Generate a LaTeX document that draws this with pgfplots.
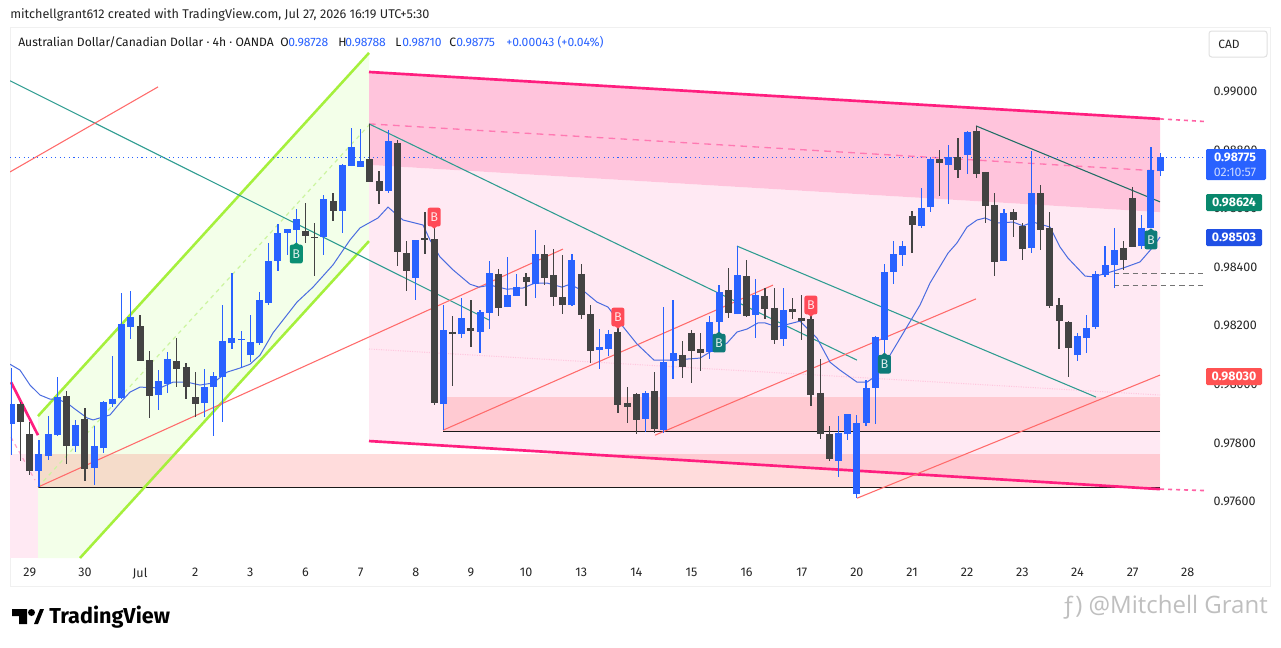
\documentclass[border=0pt]{standalone}
\usepackage{pgfplots}
\pgfplotsset{compat=1.18}
\usepackage{pgfplotstable}
\usepackage{fontspec}
\setmainfont{Fira Sans}
\newfontfamily\wmfont{Open Sans}
\definecolor{tvblue}{HTML}{2962FF}
\definecolor{tagblue}{HTML}{2050E5}
\definecolor{tvdark}{HTML}{434343}
\definecolor{pinkline}{HTML}{FF1F7F}
\definecolor{pinkhi}{HTML}{FFC4DC}
\definecolor{pinklo}{HTML}{FFE9F3}
\definecolor{gline}{HTML}{A5F03C}
\definecolor{gfill}{HTML}{F3FFE9}
\definecolor{gdash}{HTML}{CCF5A0}
\definecolor{tealline}{HTML}{2E9C90}
\definecolor{redline}{HTML}{FF6B6B}
\definecolor{rectred}{HTML}{FF5252}
\definecolor{malin}{HTML}{4A6CE0}
\definecolor{flagred}{HTML}{FF4A57}
\definecolor{flaggreen}{HTML}{0A8F73}
\definecolor{flagteal}{HTML}{0F7A78}
\pgfplotstableread{
i o h l c
0 .97865 .98056 .97759 .97933
3 .97705 .97810 .97650 .97762
4 .97756 .97892 .97742 .97830
5 .97827 .98025 .97824 .97957
7 .97790 .97879 .97769 .97862
9 .97715 .97858 .97657 .97790
10 .97783 .97944 .97766 .97940
11 .97933 .98097 .97923 .97950
12 .97954 .98312 .97950 .98206
13 .98196 .98319 .98155 .98230
16 .97964 .98049 .97913 .98012
17 .98001 .98110 .97971 .98087
21 .97937 .98053 .97889 .97991
22 .97991 .98042 .97824 .98029
23 .98025 .98271 .97872 .98148
24 .98141 .98380 .98121 .98158
25 .98152 .98182 .98056 .98155
26 .98100 .98237 .98076 .98145
27 .98141 .98315 .98134 .98288
28 .98278 .98483 .98271 .98421
29 .98421 .98547 .98387 .98517
30 .98517 .98530 .98442 .98530
31 .98527 .98599 .98479 .98564
34 .98503 .98646 .98442 .98633
36 .98592 .98752 .98517 .98749
37 .98745 .98875 .98745 .98810
38 .98742 .98872 .98742 .98762
41 .98660 .98868 .98653 .98831
44 .98363 .98493 .98288 .98493
47 .97933 .98271 .97844 .98186
49 .98172 .98295 .98158 .98227
51 .98179 .98254 .98107 .98247
52 .98244 .98421 .98189 .98380
54 .98264 .98435 .98264 .98305
55 .98302 .98377 .98302 .98332
57 .98342 .98527 .98295 .98445
61 .98271 .98445 .98268 .98425
64 .98117 .98189 .98053 .98128
65 .98121 .98186 .98097 .98172
69 .97882 .97978 .97838 .97971
71 .97844 .98264 .97834 .98076
72 .98080 .98288 .98018 .98107
76 .98110 .98234 .98087 .98213
77 .98213 .98339 .98176 .98315
79 .98240 .98472 .98240 .98373
81 .98237 .98360 .98158 .98305
84 .98155 .98329 .98131 .98254
90 .97739 .97892 .97684 .97834
91 .97830 .97899 .97810 .97899
92 .97626 .97896 .97612 .97868
93 .97868 .98015 .97858 .97988
94 .97988 .98165 .97865 .98162
95 .98152 .98411 .98100 .98384
96 .98384 .98489 .98342 .98445
97 .98442 .98489 .98404 .98472
99 .98541 .98670 .98534 .98602
100 .98605 .98773 .98588 .98769
102 .98749 .98817 .98616 .98776
104 .98783 .98865 .98718 .98861
108 .98421 .98599 .98421 .98585
111 .98466 .98797 .98448 .98653
116 .98100 .98176 .98080 .98165
117 .98158 .98237 .98107 .98193
118 .98196 .98387 .98189 .98377
119 .98373 .98472 .98367 .98408
120 .98408 .98534 .98329 .98459
123 .98472 .98578 .98462 .98534
124 .98534 .98810 .98534 .98732
125 .98728 .98788 .98710 .98775
}\upcandles
\pgfplotstableread{
i o h l c
1 .97933 .97940 .97739 .97872
2 .97830 .97872 .97691 .97705
6 .97961 .97978 .97728 .97790
8 .97882 .97920 .97670 .97711
14 .98199 .98237 .98080 .98080
15 .98083 .98114 .97885 .97961
18 .98080 .98158 .97991 .98053
19 .98059 .98073 .97950 .97991
20 .97957 .98042 .97889 .97933
32 .98524 .98619 .98483 .98507
33 .98503 .98551 .98370 .98500
35 .98626 .98653 .98558 .98592
39 .98769 .98889 .98691 .98691
40 .98694 .98728 .98616 .98660
42 .98824 .98834 .98404 .98452
43 .98448 .98489 .98319 .98387
45 .98500 .98588 .98445 .98493
46 .98496 .98534 .97930 .97937
48 .98179 .98234 .97995 .98172
50 .98193 .98288 .98128 .98182
53 .98377 .98394 .98234 .98261
56 .98367 .98380 .98268 .98350
58 .98445 .98476 .98339 .98363
59 .98373 .98462 .98268 .98298
60 .98298 .98442 .98240 .98271
62 .98377 .98411 .98223 .98237
63 .98240 .98271 .98073 .98114
66 .98179 .98196 .97902 .97930
67 .97937 .97991 .97868 .97923
68 .97967 .97971 .97830 .97879
70 .97978 .98042 .97834 .97848
73 .98100 .98148 .98022 .98059
74 .98176 .98186 .98005 .98114
75 .98121 .98176 .98046 .98107
78 .98322 .98397 .98227 .98244
80 .98370 .98425 .98230 .98234
82 .98302 .98329 .98223 .98257
83 .98261 .98329 .98138 .98152
85 .98257 .98295 .98223 .98247
86 .98227 .98305 .98152 .98216
87 .98223 .98237 .97926 .97964
88 .97971 .98087 .97814 .97830
89 .97830 .97858 .97739 .97745
98 .98575 .98592 .98448 .98544
101 .98769 .98800 .98643 .98756
103 .98776 .98841 .98704 .98732
105 .98865 .98882 .98704 .98718
106 .98725 .98725 .98551 .98609
107 .98612 .98653 .98370 .98418
109 .98588 .98599 .98503 .98561
110 .98541 .98551 .98425 .98462
112 .98653 .98681 .98459 .98527
113 .98534 .98588 .98261 .98268
114 .98271 .98295 .98121 .98216
115 .98213 .98216 .98025 .98124
121 .98466 .98489 .98391 .98425
122 .98636 .98674 .98469 .98469
}\downcandles
\pgfplotstableread{
x p
10 .98069
20 .98049
30 .97998
40 .97964
50 .97950
57 .97950
67 .97937
75 .97916
87 .97886
93 .97879
110 .97896
120 .97937
130 .97974
140 .97991
160 .97988
173 .98008
187 .98008
200 .97998
213 .98005
227 .98042
240 .98056
250 .98069
260 .98100
273 .98176
297 .98281
313 .98332
333 .98408
350 .98493
360 .98534
378 .98568
388 .98605
403 .98561
423 .98544
430 .98493
440 .98435
453 .98391
470 .98342
479 .98332
490 .98339
507 .98325
523 .98329
535 .98346
547 .98346
562 .98332
570 .98342
585 .98315
597 .98281
608 .98264
620 .98210
637 .98138
654 .98083
673 .98083
700 .98090
713 .98117
727 .98141
737 .98179
747 .98189
758 .98210
765 .98210
777 .98196
800 .98216
817 .98158
830 .98076
840 .98049
857 .98008
867 .98008
877 .98032
890 .98100
920 .98271
930 .98346
948 .98448
957 .98483
967 .98537
977 .98561
985 .98568
997 .98551
1013 .98554
1023 .98541
1033 .98554
1050 .98537
1060 .98469
1068 .98431
1085 .98370
1093 .98367
1107 .98380
1123 .98397
1140 .98418
1153 .98469
1160 .98503
}\matable
\pgfplotsset{
  chartbox/.style={scale only axis,width=896.25pt,height=397.5pt,
    at={(7.5pt,-418.5pt)},anchor=south west,
    ymin=.97408,ymax=.99216,clip=true,no markers},
  trend/.style={line width=0.8pt,tealline},
  redtrend/.style={line width=0.8pt,redline},
}
\newcommand{\flagdown}[4]{% x, price, colour: tip below
  \fill[#3] (axis cs:#1,#2) ++(-2.6pt,-6.5pt) -- ++(2.6pt,-2.2pt) -- ++(2.6pt,2.2pt) -- cycle;
  \node[fill=#3,rounded corners=1.5pt,minimum width=9.7pt,minimum height=14pt,inner sep=0pt,
        text=white!85!#3,font=\fontsize{9.5}{9.5}\selectfont] at (axis cs:#1,#2) {#4};}
\newcommand{\flagup}[4]{%
  \fill[#3] (axis cs:#1,#2) ++(-2.6pt,6.5pt) -- ++(2.6pt,2.2pt) -- ++(2.6pt,-2.2pt) -- cycle;
  \node[fill=#3,rounded corners=1.5pt,minimum width=9.7pt,minimum height=14pt,inner sep=0pt,
        text=white!85!#3,font=\fontsize{9.5}{9.5}\selectfont] at (axis cs:#1,#2) {#4};}
\begin{document}
\begin{tikzpicture}
\begin{scope}[x=0.75pt,y=-0.75pt]
\useasboundingbox (0,0) rectangle (1281,647);
\fill[white] (0,0) rectangle (1281,647);
\draw[line width=1pt,color=black!6] (10.5,27.5) rectangle (1270.5,586.5);
\end{scope}
% drawing tools and the moving average: x in chart pixels, y in price
\begin{axis}[chartbox,hide axis,xmin=10,xmax=1205]
\addplot[fill=pinklo,draw=none] coordinates {(10,.97762) (38,.97762) (38,.97408) (10,.97408)} -- cycle;
\addplot[fill=gfill,draw=none] coordinates {(38,.97892) (369,.99131) (369,.98489) (80,.97408) (38,.97408)} -- cycle;
\addplot[fill=pinklo,draw=none] coordinates {(369,.98749) (1160,.98588) (1160,.97643) (369,.97807)} -- cycle;
\addplot[fill=pinkhi,draw=none] coordinates {(369,.99066) (1160,.98906) (1160,.98588) (369,.98749)} -- cycle;
\addplot[fill=rectred,fill opacity=.2,draw=none] coordinates {(443,.97957) (1160,.97957) (1160,.97841) (443,.97841)} -- cycle;
\addplot[fill=rectred,fill opacity=.2,draw=none] coordinates {(38,.97762) (1160,.97762) (1160,.97646) (38,.97646)} -- cycle;
\addplot[black!90,line width=0.7pt] coordinates {(443,.97841) (1160,.97841)};
\addplot[black!90,line width=0.7pt] coordinates {(38,.97648) (1160,.97648)};
\addplot[pinkline!25,line width=0.8pt,densely dotted] coordinates {(369,.98121) (1160,.97964)};
\addplot[gdash,line width=0.9pt,dashed] coordinates {(38,.97650) (369,.98885)};
\addplot[gline,line width=1.9pt] coordinates {(38,.97892) (369,.99131)};
\addplot[gline,line width=1.9pt] coordinates {(80,.97408) (369,.98489)};
\addplot[pinkline,line width=2pt] coordinates {(369,.99066) (1160,.98906)};
\addplot[pinkline,line width=2pt] coordinates {(369,.97807) (1160,.97643)};
\addplot[pinkline!70,line width=1.2pt,dashed] coordinates {(1160,.98906) (1205,.98897)};
\addplot[pinkline!70,line width=1.2pt,dashed] coordinates {(1160,.97643) (1205,.97638)};
\addplot[pinkline!60,line width=1pt,dash pattern=on 5pt off 4pt] coordinates {(369,.98889) (1160,.98728)};
\addplot[pinkline,line width=2pt] coordinates {(11,.98008) (38,.97827)};
\addplot[pinkline!40,line width=0.9pt,dashed] coordinates {(11,.97820) (35,.97674)};
\addplot[trend] coordinates {(10,.99036) (489,.98220)};
\addplot[trend] coordinates {(369,.98889) (857,.98083)};
\addplot[trend] coordinates {(737,.98472) (1096,.97957)};
\addplot[trend,color=tealline!70!black] coordinates {(976,.98882) (1160,.98623)};
\addplot[redtrend] coordinates {(10,.98725) (158,.99015)};
\addplot[redtrend] coordinates {(38,.97650) (563,.98462)};
\addplot[redtrend] coordinates {(443,.97844) (773,.98339)};
\addplot[redtrend] coordinates {(655,.97827) (976,.98292)};
\addplot[redtrend] coordinates {(857,.97612) (1160,.98032)};
\addplot[black!55,line width=0.75pt,dash pattern=on 4pt off 3pt] coordinates {(1114,.98379) (1205,.98379)};
\addplot[black!55,line width=0.75pt,dash pattern=on 4pt off 3pt] coordinates {(1114,.98339) (1205,.98339)};
\addplot[tvblue,line width=0.75pt,dash pattern=on 0.8pt off 2.6pt] coordinates {(10,.98775) (1205,.98775)};
\addplot[malin,line width=0.75pt] table[x=x,y=p] {\matable};
\end{axis}
% candles: x is the bar number, y the price
\begin{axis}[chartbox,xmin=-0.152,xmax=129.88,
  axis line style={draw=none},major tick length=0pt,
  xtick={2,8,...,128},
  xticklabels={29,30,Jul,2,3,6,7,8,9,10,13,14,15,16,17,20,21,22,23,24,27,28},
  ytick={.976,.978,.98,.982,.984,.986,.988,.99},
  yticklabel pos=right,
  scaled y ticks=false,
  y tick label style={/pgf/number format/fixed,/pgf/number format/fixed zerofill,/pgf/number format/precision=5,/pgf/number format/assume math mode=true,xshift=3pt},
  x tick label style={/pgf/number format/assume math mode=true,yshift=-4pt},
  tick label style={font=\fontsize{9.4}{9.4}\selectfont,text=black!85},
  error bars/error mark=none,
]
\addplot[draw=none,error bars/.cd,y dir=both,y explicit,error bar style={tvblue,line width=0.9pt}]
  table[x=i,y=o,y error plus expr=\thisrow{h}-\thisrow{o},y error minus expr=\thisrow{o}-\thisrow{l}] {\upcandles};
\addplot[draw=none,error bars/.cd,y dir=both,y explicit,error bar style={tvdark,line width=0.9pt}]
  table[x=i,y=o,y error plus expr=\thisrow{h}-\thisrow{o},y error minus expr=\thisrow{o}-\thisrow{l}] {\downcandles};
\addplot[draw=none,error bars/.cd,y dir=plus,y explicit,error bar style={tvblue,line width=5.25pt,line cap=butt}]
  table[x=i,y=o,y error plus expr=\thisrow{c}-\thisrow{o}] {\upcandles};
\addplot[draw=none,error bars/.cd,y dir=minus,y explicit,error bar style={tvdark,line width=5.25pt,line cap=butt}]
  table[x=i,y=o,y error minus expr=\thisrow{o}-\thisrow{c}] {\downcandles};
\flagdown{46}{.98571}{flagred}{B}
\flagdown{66}{.98230}{flagred}{B}
\flagdown{87}{.98271}{flagred}{B}
\flagup{31}{.98445}{flaggreen}{B}
\flagup{77}{.98141}{flagteal}{B}
\flagup{95}{.98069}{flagteal}{B}
\flagup{124}{.98493}{flagteal}{B}
\end{axis}
\begin{scope}[x=0.75pt,y=-0.75pt]
\node[anchor=base west,inner sep=0pt,font=\fontsize{9.5}{9.5}\selectfont,text=black!85] at (10,18) {mitchellgrant612 created with TradingView.com, Jul 27, 2026 16:19 UTC+5:30};
\begin{scope}[every node/.style={anchor=base west,inner sep=0pt,font=\fontsize{9.1}{9.5}\selectfont}]
\node[text=black!90] at (18,46) {Australian Dollar/Canadian Dollar · 4h · OANDA};
\node[text=black!90] at (280,46) {O}; \node[text=tvblue] at (288,46) {0.98728};
\node[text=black!90] at (338,46) {H}; \node[text=tvblue] at (345,46) {0.98788};
\node[text=black!90] at (395,46) {L}; \node[text=tvblue] at (402,46) {0.98710};
\node[text=black!90] at (449,46) {C}; \node[text=tvblue] at (456,46) {0.98775};
\node[text=tvblue] at (506,46) {+0.00043 (+0.04\%)};
\end{scope}
\draw[black!12,line width=0.75pt,rounded corners=2pt] (1209,31) rectangle (1267,57);
\node[font=\fontsize{9}{9}\selectfont,text=black!85] at (1229,44) {CAD};
% price tags
\fill[tvblue,rounded corners=1pt] (1206,149) rectangle (1266,180);
\node[font=\bfseries\fontsize{9.3}{9.3}\selectfont,text=white] at (1235,157.5) {0.98775};
\node[font=\fontsize{9.3}{9.3}\selectfont,text=white!75!tvblue] at (1235,172) {02:10:57};
\fill[color=flaggreen!95!black,rounded corners=1pt] (1206,194) rectangle (1262,211);
\node[font=\bfseries\fontsize{9.3}{9.3}\selectfont,text=white] at (1234,202.5) {0.98624};
\fill[color=tagblue,rounded corners=1pt] (1206,229) rectangle (1262,246);
\node[font=\bfseries\fontsize{9.3}{9.3}\selectfont,text=white] at (1234,237.5) {0.98503};
\fill[color=rectred,rounded corners=1pt] (1206,368) rectangle (1262,385);
\node[font=\bfseries\fontsize{9.3}{9.3}\selectfont,text=white] at (1234,376.5) {0.98030};
% footer
\fill[black] (12,609) -- (27,609) -- (27,624) -- (19,624) -- (19,616) -- (12,616) -- cycle;
\fill[black] (31.5,612.5) circle[radius=3.5];
\fill[black] (34,624) -- (40,609) -- (44,609) -- (38,624) -- cycle;
\node[anchor=west,inner sep=0pt,font=\fontsize{16.2}{16.2}\selectfont\bfseries] at (49,617) {TradingView};
\node[anchor=east,inner sep=0pt,font=\wmfont\fontsize{18}{18}\selectfont,text=black!25] at (1268,607) {ƒ) @Mitchell Grant};
\end{scope}
\end{tikzpicture}
\end{document}
